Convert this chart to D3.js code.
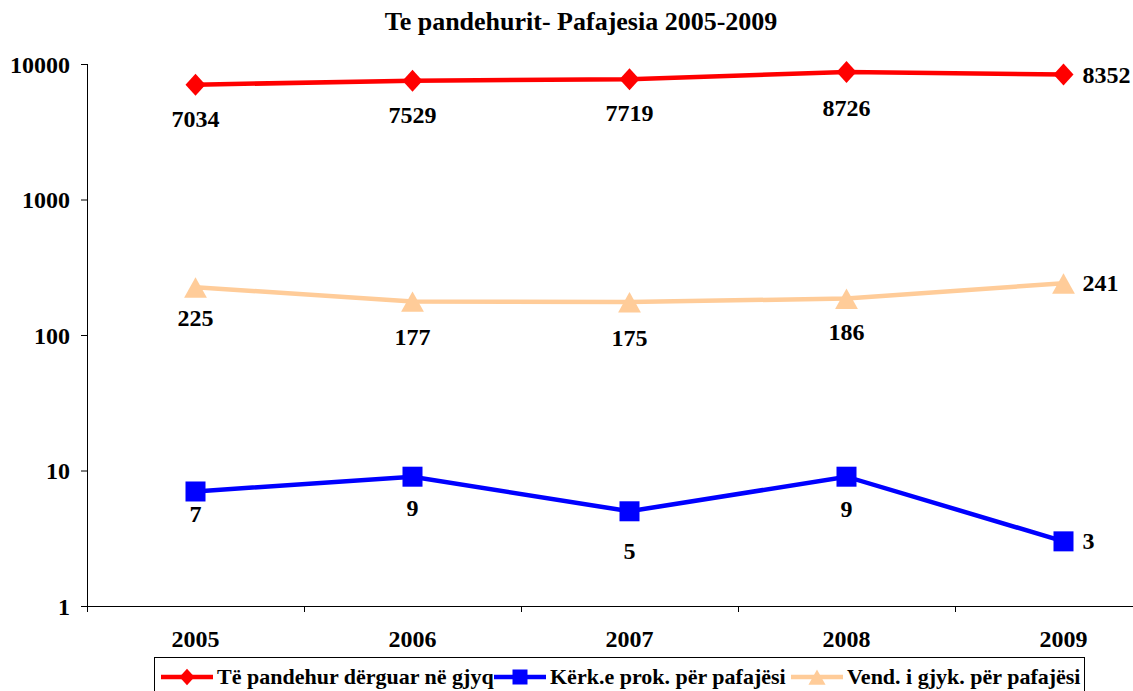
<!DOCTYPE html>
<html>
<head>
<meta charset="utf-8">
<script src="https://cdn.jsdelivr.net/npm/d3@7"></script>
<style>
  body { margin: 0; background: #fff; }
  svg { font-family: "Liberation Serif", "Times New Roman", serif; font-weight: bold; }
</style>
</head>
<body>
<div id="chart"></div>
<script>
var years = ['2005', '2006', '2007', '2008', '2009'];
var seriesNames = ['Të pandehur dërguar në gjyq', 'Kërk.e prok. për pafajësi', 'Vend. i gjyk. për pafajësi'];
var seriesColors = ['#ff0000', '#0000ff', '#ffcc99'];
var seriesShapes = ['diamond', 'square', 'triangle'];
var accused = [7034, 7529, 7719, 8726, 8352];
var prosecutorRequests = [7, 9, 5, 9, 3];
var courtDecisions = [225, 177, 175, 186, 241];
var yTicks = [1, 10, 100, 1000, 10000];

var width = 1133, height = 691;
var svg = d3.select('#chart').append('svg')
    .attr('width', width)
    .attr('height', height);

var x = d3.scaleBand()
    .domain(years)
    .range([87, 87 + 217 * 5]);

var y = d3.scaleLog()
    .domain([1, 10000])
    .range([606, 64]);

svg.append('text')
    .attr('x', 581)
    .attr('y', 30)
    .attr('text-anchor', 'middle')
    .style('font-size', '26px')
    .text('Te pandehurit- Pafajesia 2005-2009');

// y axis
var yAxis = svg.append('g')
    .attr('transform', 'translate(87,0)')
    .call(d3.axisLeft(y).tickValues(yTicks).tickFormat(d3.format('d')).tickSize(6).tickSizeOuter(0));
yAxis.select('.domain').remove();
yAxis.selectAll('text')
    .attr('x', -17)
    .attr('dy', '0.34em')
    .style('font-size', '24px')
    .style('font-family', '"Liberation Serif", serif')
    .style('font-weight', 'bold')
    .attr('fill', '#000');
svg.append('line')
    .attr('x1', 87.5).attr('x2', 87.5)
    .attr('y1', 64).attr('y2', 612)
    .attr('stroke', '#000');

// x axis line with ticks at category boundaries
svg.append('line')
    .attr('x1', 87).attr('x2', width)
    .attr('y1', 606.5).attr('y2', 606.5)
    .attr('stroke', '#000');
svg.selectAll('.xtick')
    .data(years.slice(0, 4))
    .enter().append('line')
    .attr('class', 'xtick')
    .attr('x1', d => x(d) + x.bandwidth() + 0.5)
    .attr('x2', d => x(d) + x.bandwidth() + 0.5)
    .attr('y1', 606).attr('y2', 612)
    .attr('stroke', '#000');
svg.selectAll('.xlabel')
    .data(years)
    .enter().append('text')
    .attr('class', 'xlabel')
    .attr('x', d => x(d) + x.bandwidth() / 2)
    .attr('y', 647)
    .attr('text-anchor', 'middle')
    .style('font-size', '24px')
    .text(d => d);

var series = [
    { name: seriesNames[0], values: accused, color: seriesColors[0], shape: seriesShapes[0], labelDy: [42, 42, 42, 44, 8] },
    { name: seriesNames[1], values: prosecutorRequests, color: seriesColors[1], shape: seriesShapes[1], labelDy: [31, 39, 48, 40, 8] },
    { name: seriesNames[2], values: courtDecisions, color: seriesColors[2], shape: seriesShapes[2], labelDy: [39, 44, 44, 42, 8] }
];

function marker(sel, shape, color, s) {
    if (shape === 'diamond') {
        sel.append('path')
            .attr('d', 'M0,' + (-s * 0.55) + 'L' + (s * 0.5) + ',0L0,' + (s * 0.55) + 'L' + (-s * 0.5) + ',0Z')
            .attr('fill', color);
    } else if (shape === 'square') {
        sel.append('rect').attr('x', -s / 2).attr('y', -s / 2)
            .attr('width', s).attr('height', s).attr('fill', color);
    } else {
        sel.append('path')
            .attr('d', 'M0,' + (-s * 0.5) + 'L' + (s * 0.57) + ',' + (s * 0.52) + 'L' + (-s * 0.57) + ',' + (s * 0.52) + 'Z')
            .attr('fill', color);
    }
}

var line = d3.line()
    .x((d, i) => x(years[i]) + x.bandwidth() / 2)
    .y(d => y(d));

series.forEach(s => {
    svg.append('path')
        .datum(s.values)
        .attr('d', line)
        .attr('fill', 'none')
        .attr('stroke', s.color)
        .attr('stroke-width', 4.5);

    s.values.forEach((v, i) => {
        var g = svg.append('g')
            .attr('transform', 'translate(' + (x(years[i]) + x.bandwidth() / 2) + ',' + y(v) + ')');
        marker(g, s.shape, s.color, 20);
        var last = i === s.values.length - 1;
        svg.append('text')
            .attr('x', x(years[i]) + x.bandwidth() / 2 + (last ? 19 : 0))
            .attr('y', y(v) + s.labelDy[i])
            .attr('text-anchor', last ? 'start' : 'middle')
            .style('font-size', '24px')
            .text(v);
    });
});

// legend
var legend = svg.append('g');
legend.append('rect')
    .attr('x', 154.5).attr('y', 657.5)
    .attr('width', 930).attr('height', 40)
    .attr('fill', '#fff').attr('stroke', '#000');
var legendX = [161, 494, 791];
series.forEach((s, i) => {
    var lg = legend.append('g').attr('transform', 'translate(' + legendX[i] + ',677)');
    lg.append('line').attr('x1', 0).attr('x2', 52).attr('stroke', s.color).attr('stroke-width', 4.5);
    var m = lg.append('g').attr('transform', 'translate(26,0)');
    marker(m, s.shape, s.color, 15);
    lg.append('text').attr('x', 56).attr('y', 684 - 677).style('font-size', '22px').text(s.name);
});
</script>
</body>
</html>
